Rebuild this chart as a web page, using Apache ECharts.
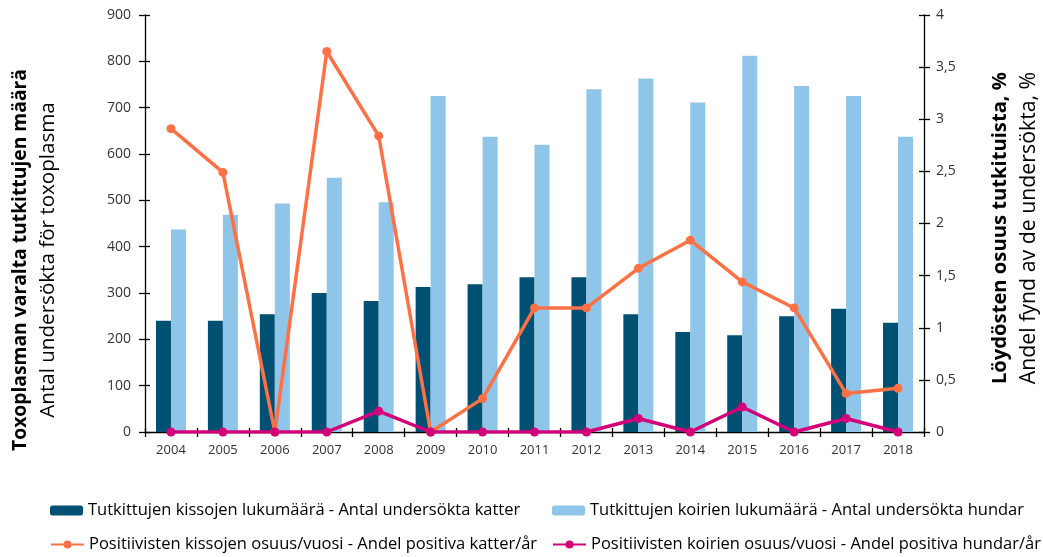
<!DOCTYPE html>
<html>
<head>
<meta charset="utf-8">
<script src="https://cdn.jsdelivr.net/npm/echarts@6/dist/echarts.min.js"></script>
<style>
  html, body { margin: 0; padding: 0; background: #fff; }
  #chart { width: 1043px; height: 557px; }
</style>
</head>
<body>
<div id="chart"></div>
<script>
var years = ["2004", "2005", "2006", "2007", "2008", "2009", "2010", "2011",
  "2012", "2013", "2014", "2015", "2016", "2017", "2018"];
var catsTested = [240, 240, 254, 300, 283, 313, 319, 334, 334, 254, 216, 209, 250, 266, 236];
var dogsTested = [437, 469, 493, 549, 496, 725, 637, 620, 740, 763, 711, 812, 747, 725, 637];
var catsPositive = [2.91, 2.49, 0, 3.65, 2.84, 0, 0.32, 1.19, 1.19, 1.57, 1.84, 1.44, 1.19, 0.37, 0.42];
var dogsPositive = [0, 0, 0, 0, 0.2, 0, 0, 0, 0, 0.13, 0, 0.24, 0, 0.13, 0];

var leftTitle = "Toxoplasman varalta tutkittujen määrä";
var leftSub = "Antal undersökta för toxoplasma";
var rightTitle = "Löydösten osuus tutkituista, %";
var rightSub = "Andel fynd av de undersökta, %";

var catBarName = "Tutkittujen kissojen lukumäärä - Antal undersökta katter";
var dogBarName = "Tutkittujen koirien lukumäärä - Antal undersökta hundar";
var catLineName = "Positiivisten kissojen osuus/vuosi - Andel positiva katter/år";
var dogLineName = "Positiivisten koirien osuus/vuosi - Andel positiva hundar/år";

var font = '"Open Sans", sans-serif';

// pick a font size so the text spans about the same length as in the original
var ctx = document.createElement("canvas").getContext("2d");
function fitSize(text, weight, target) {
  ctx.font = weight + " 100px " + font;
  return Math.round(100 * target / ctx.measureText(text).width * 10) / 10;
}

var legendSize = fitSize(catBarName, "normal", 433);

function title(text, x, y, bold, span) {
  return {
    type: "text", x: x, y: y, rotation: Math.PI / 2,
    style: {
      text: text, fontFamily: font,
      fontSize: fitSize(text, bold ? "bold" : "normal", span),
      fontWeight: bold ? "bold" : "normal", fill: "#000",
      align: "center", verticalAlign: "middle"
    }
  };
}

function legendItem(name, left, top) {
  return {
    left: left, top: top, itemWidth: 33, itemHeight: 10, padding: 0,
    textStyle: { fontSize: legendSize, color: "#000", fontFamily: font },
    data: [name]
  };
}

var myChart = echarts.init(document.getElementById("chart"));

var option = {
  animation: false,
  textStyle: { fontFamily: font },
  grid: { left: 145, right: 119, top: 15, bottom: 125 },
  legend: [
    legendItem(catBarName, 50, 502),
    legendItem(dogBarName, 552, 502),
    legendItem(catLineName, 50, 536),
    legendItem(dogLineName, 552, 536)
  ],
  xAxis: [
    {
      type: "category",
      data: years,
      axisLine: { lineStyle: { color: "#000", width: 1.3 } },
      axisTick: { show: true, length: 5, lineStyle: { color: "#000", width: 1.3 } },
      axisLabel: { fontSize: 13, color: "#333", margin: 12 }
    },
    {
      // inner half of the crossing ticks
      type: "category", data: years, position: "bottom",
      axisLine: { show: false },
      axisTick: { show: true, inside: true, length: 4, lineStyle: { color: "#000", width: 1.3 } },
      axisLabel: { show: false }
    }
  ],
  yAxis: [
    {
      type: "value", min: 0, max: 900, interval: 100,
      axisLine: { show: true, lineStyle: { color: "#000", width: 1.3 } },
      axisTick: { show: true, length: 6, lineStyle: { color: "#000", width: 1.3 } },
      axisLabel: { fontSize: 14, color: "#333", margin: 14 },
      splitLine: { show: false }
    },
    {
      type: "value", min: 0, max: 4, interval: 0.5, position: "right",
      axisLine: { show: true, lineStyle: { color: "#000", width: 1.3 } },
      axisTick: { show: true, length: 6, lineStyle: { color: "#000", width: 1.3 } },
      axisLabel: {
        fontSize: 14, color: "#333", margin: 12,
        formatter: function (v) { return String(v).replace(".", ","); }
      },
      splitLine: { show: false }
    },
    {
      type: "value", min: 0, max: 900, interval: 100, position: "left",
      axisLine: { show: false },
      axisTick: { show: true, inside: true, length: 5, lineStyle: { color: "#000", width: 1.3 } },
      axisLabel: { show: false },
      splitLine: { show: false }
    },
    {
      type: "value", min: 0, max: 4, interval: 0.5, position: "right",
      axisLine: { show: false },
      axisTick: { show: true, inside: true, length: 5, lineStyle: { color: "#000", width: 1.3 } },
      axisLabel: { show: false },
      splitLine: { show: false }
    }
  ],
  graphic: [
    title(leftTitle, 21, 260, true, 383),
    title(leftSub, 48, 260, false, 315),
    title(rightTitle, 1000, 228, true, 313),
    title(rightSub, 1029, 228, false, 313)
  ],
  series: [
    {
      name: catBarName,
      type: "bar", data: catsTested, barWidth: 15, barGap: "0%",
      itemStyle: { color: "#005073" }
    },
    {
      name: dogBarName,
      type: "bar", data: dogsTested, barWidth: 15, barGap: "0%",
      itemStyle: { color: "#8fc5e8" }
    },
    {
      name: catLineName,
      type: "line", yAxisIndex: 1, data: catsPositive,
      symbol: "circle", symbolSize: 9,
      lineStyle: { width: 3.5, color: "#ff7145" },
      itemStyle: { color: "#ff7145" }
    },
    {
      name: dogLineName,
      type: "line", yAxisIndex: 1, data: dogsPositive,
      symbol: "circle", symbolSize: 9,
      lineStyle: { width: 3.5, color: "#d4007a" },
      itemStyle: { color: "#d4007a" }
    }
  ]
};

myChart.setOption(option);
</script>
</body>
</html>
